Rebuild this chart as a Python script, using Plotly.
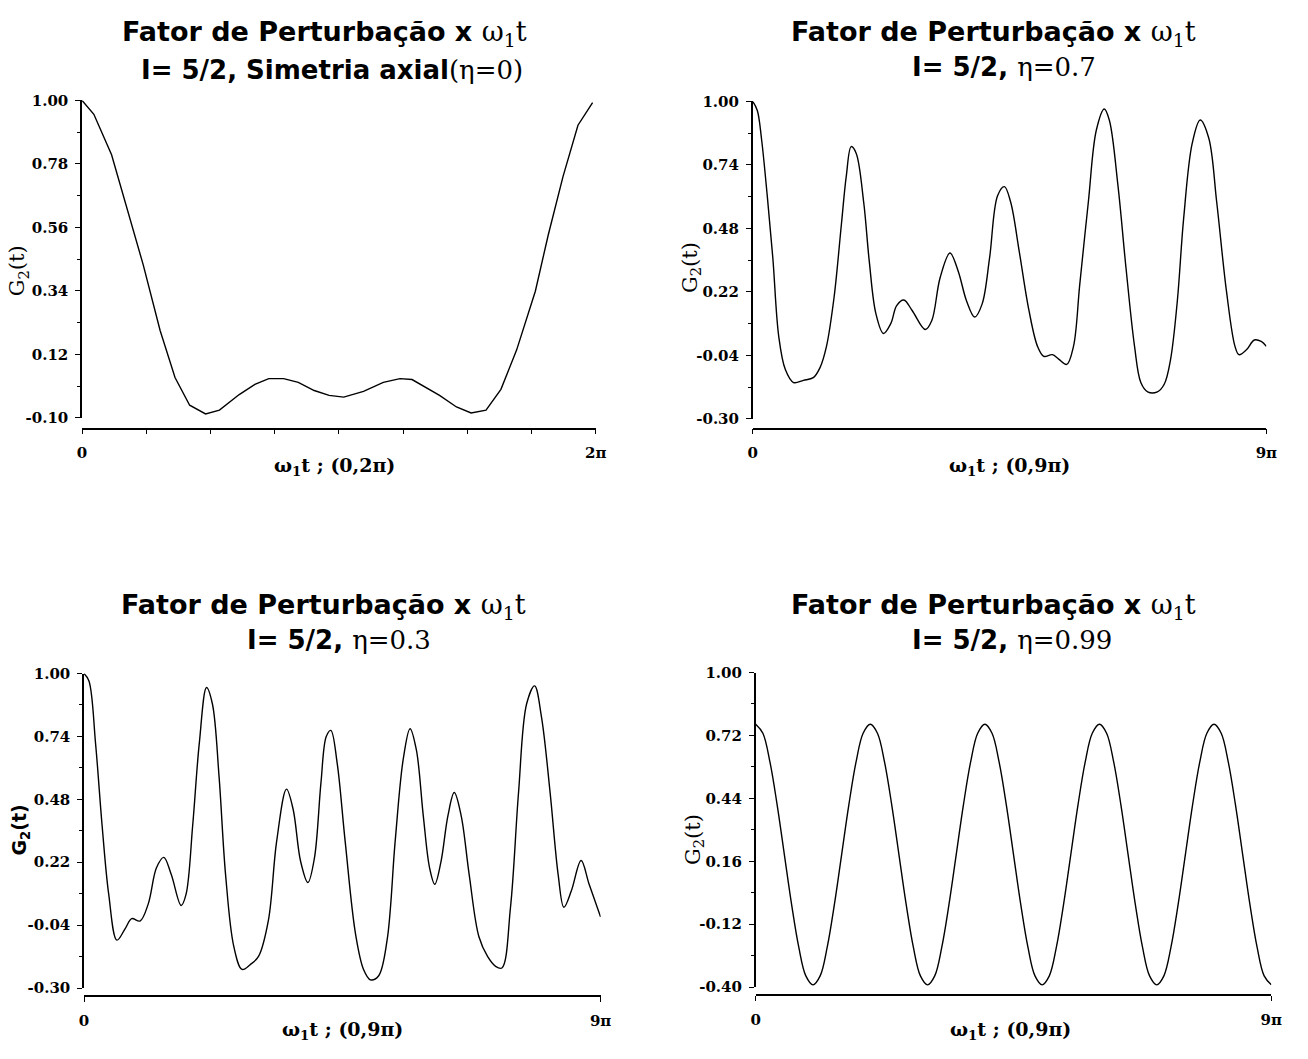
import plotly.graph_objects as go

W, H = 1308, 1059

# ---------------- data (x in units of pi) ----------------
p1_x = [0, 0.046, 0.115, 0.181, 0.238, 0.304, 0.362, 0.419, 0.481, 0.535, 0.612, 0.673,
        0.727, 0.785, 0.842, 0.904, 0.962, 1.019, 1.096, 1.173, 1.238, 1.285, 1.327, 1.392,
        1.458, 1.515, 1.573, 1.631, 1.692, 1.765, 1.815, 1.873, 1.931, 1.988]
p1_y = [1.00, 0.952, 0.812, 0.611, 0.431, 0.203, 0.040, -0.056, -0.086, -0.073, -0.019, 0.016,
        0.036, 0.036, 0.023, -0.005, -0.022, -0.028, -0.008, 0.023, 0.036, 0.033, 0.012, -0.022,
        -0.062, -0.083, -0.073, -0.001, 0.135, 0.339, 0.533, 0.737, 0.914, 0.992]

p2_x = [0, 0.08, 0.156, 0.254, 0.352, 0.456, 0.571, 0.715, 0.888, 1.061, 1.177, 1.292, 1.425,
        1.552, 1.639, 1.725, 1.812, 1.944, 2.042, 2.158, 2.290, 2.418, 2.522, 2.648, 2.793,
        3.024, 3.138, 3.283, 3.456, 3.600, 3.745, 3.889, 4.02, 4.15, 4.29, 4.41, 4.52, 4.67,
        4.84, 4.99, 5.10, 5.25, 5.36, 5.50, 5.62, 5.73, 5.88, 6.02, 6.16, 6.25, 6.40, 6.54,
        6.69, 6.80, 6.92, 7.09, 7.21, 7.32, 7.44, 7.55, 7.70, 7.84, 7.99, 8.13, 8.30, 8.45,
        8.52, 8.65, 8.79, 8.91, 9.0]
p2_y = [1.00, 0.963, 0.842, 0.614, 0.359, 0.037, -0.098, -0.151, -0.142, -0.131, -0.091, -0.003,
        0.198, 0.493, 0.694, 0.815, 0.788, 0.587, 0.345, 0.131, 0.050, 0.090, 0.164, 0.187,
        0.144, 0.066, 0.103, 0.278, 0.379, 0.305, 0.184, 0.117, 0.171, 0.359, 0.614, 0.651,
        0.587, 0.385, 0.144, -0.003, -0.044, -0.037, -0.055, -0.077, -0.003, 0.251, 0.587,
        0.882, 0.969, 0.922, 0.654, 0.319, -0.003, -0.151, -0.189, -0.189, -0.158, -0.058,
        0.184, 0.520, 0.828, 0.924, 0.850, 0.587, 0.224, -0.003, -0.037, -0.017, 0.023,
        0.017, -0.003]

p3_x = [0, 0.086, 0.201, 0.315, 0.430, 0.573, 0.717, 0.831, 0.975, 1.119, 1.262, 1.389, 1.520,
        1.692, 1.778, 1.893, 2.008, 2.134, 2.237, 2.352, 2.466, 2.610, 2.753, 2.896, 3.040,
        3.212, 3.355, 3.527, 3.642, 3.773, 3.900, 4.014, 4.128, 4.22, 4.30, 4.41, 4.55, 4.73,
        4.87, 4.99, 5.13, 5.28, 5.42, 5.56, 5.68, 5.79, 5.91, 6.02, 6.11, 6.22, 6.34, 6.45,
        6.57, 6.71, 6.88, 7.03, 7.17, 7.28, 7.43, 7.57, 7.71, 7.85, 7.97, 8.12, 8.26, 8.36,
        8.49, 8.66, 8.80, 9.0]
p3_y = [1.00, 0.969, 0.711, 0.372, 0.088, -0.102, -0.054, -0.013, -0.023, 0.048, 0.197, 0.240,
        0.169, 0.041, 0.088, 0.372, 0.711, 0.942, 0.874, 0.576, 0.169, -0.129, -0.223, -0.203,
        -0.169, -0.020, 0.305, 0.522, 0.440, 0.224, 0.136, 0.237, 0.549, 0.74, 0.765, 0.63,
        0.305, -0.076, -0.223, -0.266, -0.250, -0.102, 0.305, 0.644, 0.772, 0.684, 0.413,
        0.197, 0.129, 0.224, 0.413, 0.508, 0.413, 0.169, -0.088, -0.169, -0.210, -0.217,
        0.034, 0.508, 0.874, 0.949, 0.820, 0.508, 0.169, 0.034, 0.102, 0.227, 0.129, -0.006]

p4_x = [0, 0.125, 0.25, 0.375, 0.5, 0.625, 0.75, 0.875, 1.0, 1.125, 1.25, 1.375, 1.5, 1.625,
        1.75, 1.875, 2.0, 2.125, 2.25, 2.375, 2.5, 2.625, 2.75, 2.875, 3.0, 3.125, 3.25, 3.375,
        3.5, 3.625, 3.75, 3.875, 4.0, 4.125, 4.25, 4.375, 4.5, 4.625, 4.75, 4.875, 5.0, 5.125,
        5.25, 5.375, 5.5, 5.625, 5.75, 5.875, 6.0, 6.125, 6.25, 6.375, 6.5, 6.625, 6.75, 6.875,
        7.0, 7.125, 7.25, 7.375, 7.5, 7.625, 7.75, 7.875, 8.0, 8.125, 8.25, 8.375, 8.5, 8.625,
        8.75, 8.875, 9.0]
p4_y = [0.77, 0.73, 0.60, 0.41, 0.19, -0.03, -0.22, -0.35, -0.39, -0.35, -0.22, -0.03, 0.19,
        0.41, 0.60, 0.73, 0.77, 0.73, 0.60, 0.41, 0.19, -0.03, -0.22, -0.35, -0.39, -0.35,
        -0.22, -0.03, 0.19, 0.41, 0.60, 0.73, 0.77, 0.73, 0.60, 0.41, 0.19, -0.03, -0.22,
        -0.35, -0.39, -0.35, -0.22, -0.03, 0.19, 0.41, 0.60, 0.73, 0.77, 0.73, 0.60, 0.41,
        0.19, -0.03, -0.22, -0.35, -0.39, -0.35, -0.22, -0.03, 0.19, 0.41, 0.60, 0.73, 0.77,
        0.73, 0.60, 0.41, 0.19, -0.03, -0.22, -0.35, -0.39]

y1_ticks = [-0.10, 0.12, 0.34, 0.56, 0.78, 1.00]
y1_text = ["-0.10", "0.12", "0.34", "0.56", "0.78", "1.00"]
y23_ticks = [-0.30, -0.04, 0.22, 0.48, 0.74, 1.00]
y23_text = ["-0.30", "-0.04", "0.22", "0.48", "0.74", "1.00"]
y4_ticks = [-0.40, -0.12, 0.16, 0.44, 0.72, 1.00]
y4_text = ["-0.40", "-0.12", "0.16", "0.44", "0.72", "1.00"]

x1_ticks = [0, 0.25, 0.5, 0.75, 1.0, 1.25, 1.5, 1.75, 2.0]
x1_text = ["0", " ", " ", " ", " ", " ", " ", " ", "2π"]
x9_ticks = [0, 9]
x9_text = ["0", "9π"]

# ---------------- layout geometry (pixels) ----------------
panels = [
    dict(x=p1_x, y=p1_y, shape="linear", xd=(78, 598), yd=(416, 93), xpos=427,
         xr=[0, 2], xt=x1_ticks, xtt=x1_text, yr=[-0.10, 1.00], yt=y1_ticks, ytt=y1_text),
    dict(x=p2_x, y=p2_y, shape="spline", xd=(757, 1277), yd=(417, 94), xpos=427,
         xr=[0, 9], xt=x9_ticks, xtt=x9_text, yr=[-0.30, 1.00], yt=y23_ticks, ytt=y23_text),
    dict(x=p3_x, y=p3_y, shape="spline", xd=(80, 603), yd=(996, 676), xpos=1004,
         xr=[0, 9], xt=x9_ticks, xtt=x9_text, yr=[-0.30, 1.00], yt=y23_ticks, ytt=y23_text),
    dict(x=p4_x, y=p4_y, shape="spline", xd=(760, 1282), yd=(995, 675), xpos=1003,
         xr=[0, 9], xt=x9_ticks, xtt=x9_text, yr=[-0.40, 1.00], yt=y4_ticks, ytt=y4_text),
]

fig = go.Figure()
tickfont = dict(family="DejaVu Serif", size=15, color="black", weight="bold")

for i, p in enumerate(panels, start=1):
    sfx = "" if i == 1 else str(i)
    fig.add_trace(go.Scatter(x=p["x"], y=p["y"], mode="lines",
                             line=dict(color="black", width=1.4, shape=p["shape"]),
                             xaxis="x" + sfx, yaxis="y" + sfx, showlegend=False,
                             hoverinfo="skip"))
    ystep = p["yt"][1] - p["yt"][0]
    fig.layout["xaxis" + sfx] = dict(
        domain=[p["xd"][0] / W, p["xd"][1] / W], anchor="free",
        position=1 - p["xpos"] / H, range=p["xr"],
        tickmode="array", tickvals=p["xt"], ticktext=p["xtt"],
        ticks="outside", ticklen=5, tickwidth=1.3, tickcolor="black",
        showline=True, linecolor="black", linewidth=1.5,
        showgrid=False, zeroline=False, tickfont=tickfont, ticklabelstandoff=6)
    fig.layout["yaxis" + sfx] = dict(
        domain=[1 - p["yd"][0] / H, 1 - p["yd"][1] / H], anchor="x" + sfx,
        range=p["yr"], tickmode="array", tickvals=p["yt"], ticktext=p["ytt"],
        ticks="outside", ticklen=5, tickwidth=1.3, tickcolor="black",
        minor=dict(ticks="outside", ticklen=3, tickwidth=1, tickcolor="black",
                   tick0=p["yr"][0], dtick=ystep / 2, showgrid=False),
        showline=True, linecolor="black", linewidth=1.5,
        showgrid=False, zeroline=False, tickfont=tickfont, ticklabelstandoff=4)

SANS = "DejaVu Sans"
SERIF = "DejaVu Serif"
annots = []

def ann(text, px, py, size, family, angle=0, bold=False):
    annots.append(dict(text=text, x=px / W, y=1 - py / H, xref="paper", yref="paper",
                       xanchor="center", yanchor="middle", showarrow=False,
                       textangle=angle,
                       font=dict(family=family, size=size, color="black",
                                 weight="bold" if bold else "normal")))

line1 = ("<b>Fator de Perturbação x </b><span style='font-family:DejaVu Serif;font-weight:normal'>"
         "ω<sub>1</sub>t</span>")
ser = "<span style='font-family:DejaVu Serif;font-weight:normal'>%s</span>"

ann(line1, 323, 25, 27, SANS)
ann("<b>I= 5/2, Simetria axial</b>" + ser % "(η=0)", 331, 62, 26, SANS)
ann(line1, 1001, 25, 27, SANS)
ann("<b>I= 5/2, </b>" + ser % "η=0.7", 1011, 59, 26, SANS)
ann(line1, 322, 608, 27, SANS)
ann("<b>I= 5/2, </b>" + ser % "η=0.3", 338, 642, 26, SANS)
ann(line1, 1001, 608, 27, SANS)
ann("<b>I= 5/2, </b>" + ser % "η=0.99", 1019, 642, 26, SANS)

ann("ω<sub>1</sub>t ; (0,2π)", 334, 465, 19, SERIF, bold=True)
ann("ω<sub>1</sub>t ; (0,9π)", 1017, 465, 19, SERIF, bold=True)
ann("ω<sub>1</sub>t ; (0,9π)", 342, 1039, 19, SERIF, bold=True)
ann("ω<sub>1</sub>t ; (0,9π)", 1018, 1039, 19, SERIF, bold=True)

ann("G<sub>2</sub>(t)", 14, 266, 21, SERIF, angle=-90)
ann("G<sub>2</sub>(t)", 694, 263, 21, SERIF, angle=-90)
ann("G<sub>2</sub>(t)", 16, 835, 19, SANS, angle=-90, bold=True)
ann("G<sub>2</sub>(t)", 697, 845, 21, SERIF, angle=-90)

fig.update_layout(width=W, height=H, margin=dict(l=0, r=0, t=0, b=0, pad=0),
                  paper_bgcolor="white", plot_bgcolor="white", annotations=annots,
                  showlegend=False)

fig.write_html("out.html")
